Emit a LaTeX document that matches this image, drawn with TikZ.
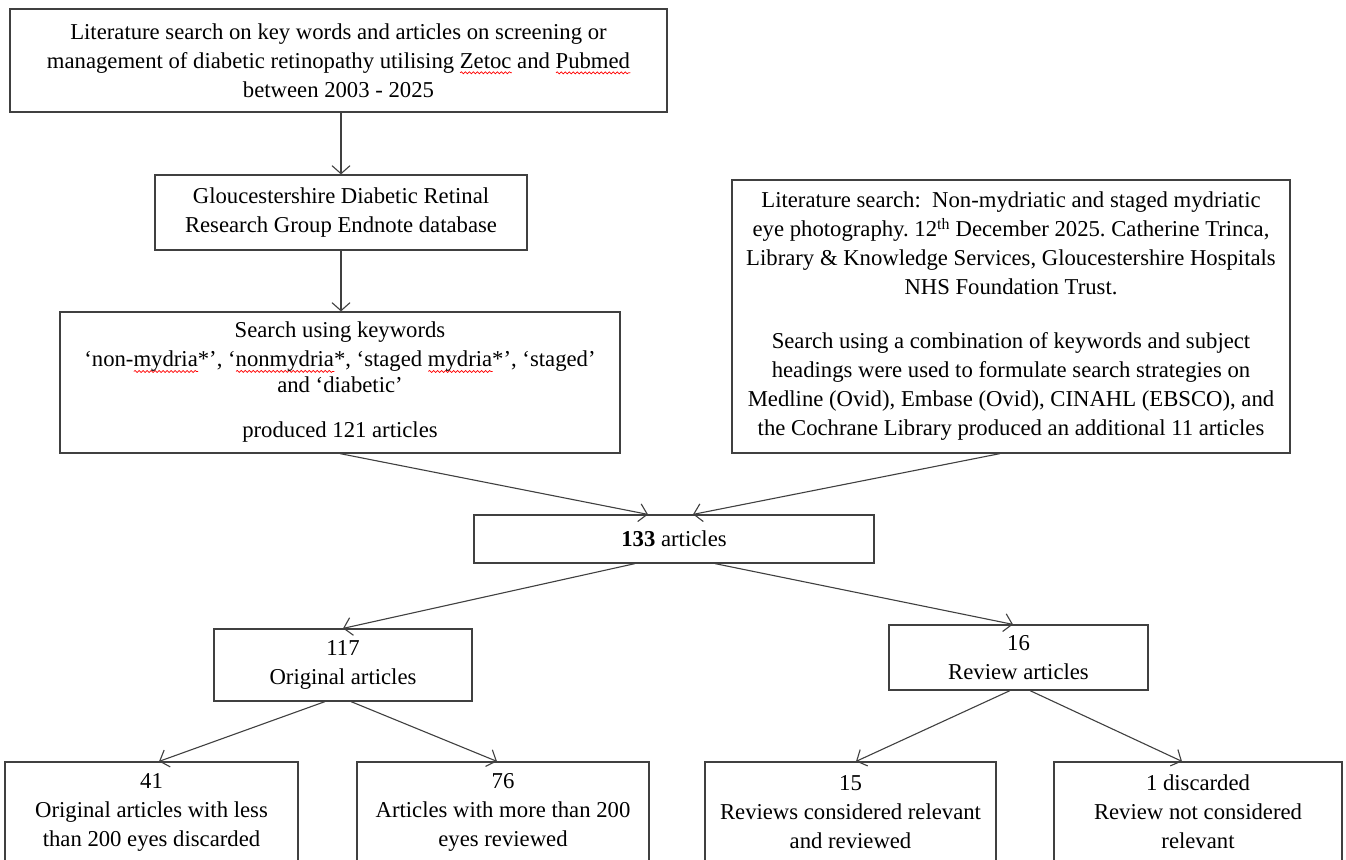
\documentclass[tikz,border=0pt]{standalone}
\usepackage{fontspec}
\setmainfont{Liberation Serif}
\usetikzlibrary{positioning}
\usetikzlibrary{arrows.meta}
\usetikzlibrary{decorations.pathmorphing}

% red wavy underline, as left by a spell checker
\newsavebox\wavebox
\newcommand\redwave[1]{\leavevmode\sbox\wavebox{#1}%
  \rlap{\tikz[baseline=0pt]\draw[red, line width=0.7pt, solid, decorate,
    decoration={snake, amplitude=1pt, segment length=4pt}]
    (0pt,-4.5pt) -- (\wd\wavebox,-4.5pt);}\usebox\wavebox}

\tikzset{
  box/.style={draw=black!75, line width=1.2pt, align=center, inner sep=0pt,
    font=\fontsize{22.7}{29}\selectfont\frenchspacing},
  link/.style={draw=black!75, line width=1.1pt, -{Straight Barb[length=8pt,width=18pt]}},
}

\begin{document}
\begin{tikzpicture}[x=1pt,y=-1pt]
\useasboundingbox (0,0) rectangle (1346,859);
\fill[white] (0,0) rectangle (1346,859);
\clip (0,0) rectangle (1346,859);

% search sources
\node[box, minimum width=657pt, minimum height=103pt] (lit) at (338.5,60.5)
  {Literature search on key words and articles on screening or\\
   management of diabetic retinopathy utilising \redwave{Zetoc} and \redwave{Pubmed}\\
   between 2003 - 2025};
\node[box, minimum width=372pt, minimum height=75pt] (glos) at (341,212.5)
  {Gloucestershire Diabetic Retinal\\ Research Group Endnote database};
\node[box, minimum width=560pt, minimum height=141pt] (kw) at (340,382.5)
  {Search using keywords\\
   ‘non-\redwave{mydria}*’, ‘\redwave{nonmydria}*, ‘staged \redwave{mydria}*’, ‘staged’\\[-3pt]
   and ‘diabetic’\\[16pt]
   produced 121 articles};
\node[box, minimum width=558pt, minimum height=273pt] (lib) at (1011,316.5)
  {Literature search:\ \ Non-mydriatic and staged mydriatic\\
   eye photography. 12\textsuperscript{th} December 2025. Catherine Trinca,\\
   Library \& Knowledge Services, Gloucestershire Hospitals\\
   NHS Foundation Trust.\\[25pt]
   Search using a combination of keywords and subject\\
   headings were used to formulate search strategies on\\
   Medline (Ovid), Embase (Ovid), CINAHL (EBSCO), and\\
   the Cochrane Library produced an additional 11 articles};

% totals
\node[box, minimum width=400pt, minimum height=48pt] (total) at (674,539)
  {\textbf{133} articles};
\node[box, minimum width=258pt, minimum height=72pt] (orig) at (343,665)
  {117\\ Original articles};
\node[box, minimum width=259pt, minimum height=65pt] (rev) at (1018.5,657.5)
  {16\\ Review articles};

% outcomes
\node[box, minimum width=293pt, minimum height=100pt] (less) at (151.5,812)
  {41\\ Original articles with less\\ than 200 eyes discarded};
\node[box, minimum width=292pt, minimum height=100pt] (more) at (503,812)
  {76\\ Articles with more than 200\\ eyes reviewed};
\node[box, minimum width=291pt, minimum height=100pt] (relev) at (850.5,812)
  {15\\ Reviews considered relevant\\ and reviewed};
\node[box, minimum width=288pt, minimum height=100pt] (disc) at (1198,812)
  {1 discarded\\ Review not considered\\ relevant};

\draw[link] (glos.north |- lit.south) -- (glos.north);
\draw[link] (glos.south) -- (glos.south |- kw.north);
\draw[link] (kw.south) -- ([xshift=-26pt]total.north);
\draw[link] ([xshift=-11pt]lib.south) -- ([xshift=19pt]total.north);
\draw[link] ([xshift=-39pt]total.south) -- (orig.north);
\draw[link] ([xshift=41pt]total.south) -- ([xshift=-5.5pt]rev.north);
\draw[link] ([xshift=-18pt]orig.south) -- ([xshift=7.5pt]less.north);
\draw[link] ([xshift=8pt]orig.south) -- ([xshift=-6pt]more.north);
\draw[link] ([xshift=-8.5pt]rev.south) -- ([xshift=5.5pt]relev.north);
\draw[link] ([xshift=11.5pt]rev.south) -- ([xshift=-16pt]disc.north);
\end{tikzpicture}
\end{document}
